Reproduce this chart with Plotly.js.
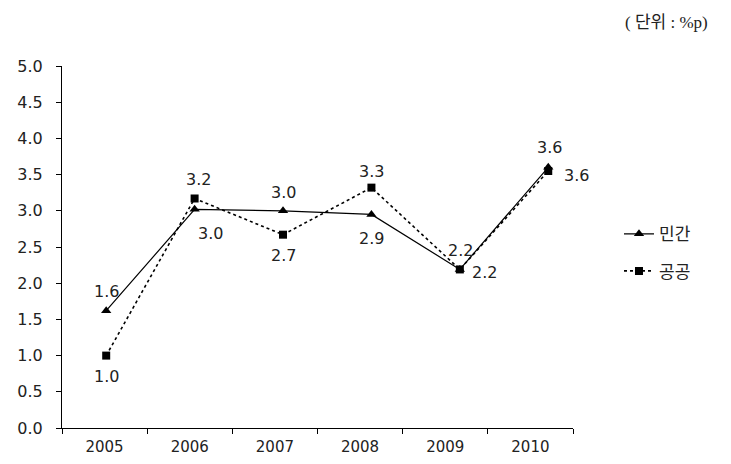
<!DOCTYPE html>
<html>
<head>
<meta charset="utf-8">
<script src="https://cdn.plot.ly/plotly-3.0.1.min.js"></script>
<style>html,body{margin:0;padding:0;background:#fff;}</style>
</head>
<body>
<div id="chart" style="width:731px;height:464px;"></div>
<script>
const years = ['2005', '2006', '2007', '2008', '2009', '2010'];
const privateVals = [1.62, 3.02, 3.0, 2.95, 2.19, 3.6];
const publicVals = [1.0, 3.17, 2.67, 3.32, 2.19, 3.55];
const privateLabels = ['1.6', '3.0', '3.0', '2.9', '2.2', '3.6'];
const publicLabels = ['1.0', '3.2', '2.7', '3.3', '2.2', '3.6'];

// label offsets in pixels (x right, y up)
const privateShift = [[0, 19], [16, -24], [0, 18], [0, -24], [1, 19], [1, 20]];
const publicShift = [[0, -21], [4, 19], [0, -21], [0, 16], [25, -3], [28, -5]];

const numFont = {family: 'DejaVu Sans, Noto Sans CJK KR, sans-serif', size: 16, color: '#222'};

const traces = [
  {
    x: years, y: privateVals, name: '민간', type: 'scatter', mode: 'lines+markers',
    xaxis: 'x2', yaxis: 'y', legendgroup: 'a',
    line: {color: '#000', width: 1.2, dash: 'solid'},
    marker: {symbol: 'triangle-up', size: 9, color: '#000'}, cliponaxis: false
  },
  {
    x: years, y: publicVals, name: '공공', type: 'scatter', mode: 'lines+markers',
    xaxis: 'x2', yaxis: 'y', legendgroup: 'b',
    line: {color: '#000', width: 1.6, dash: 'dot'},
    marker: {symbol: 'square', size: 8, color: '#000'}, cliponaxis: false
  },
  {
    // invisible trace to carry the category tick axis
    x: years, y: publicVals, type: 'scatter', mode: 'markers', xaxis: 'x', yaxis: 'y',
    marker: {opacity: 0}, showlegend: false, hoverinfo: 'skip'
  }
];

const annotations = [];
years.forEach((yr, i) => {
  annotations.push({xref: 'x2', yref: 'y', x: i, y: privateVals[i], text: privateLabels[i],
    showarrow: false, xanchor: 'center', yanchor: 'middle',
    xshift: privateShift[i][0], yshift: privateShift[i][1], font: numFont});
  annotations.push({xref: 'x2', yref: 'y', x: i, y: publicVals[i], text: publicLabels[i],
    showarrow: false, xanchor: 'center', yanchor: 'middle',
    xshift: publicShift[i][0], yshift: publicShift[i][1], font: numFont});
});
annotations.push({
  text: '( 단위 : %p)', xref: 'paper', yref: 'paper', x: 1.182, y: 1.121,
  xanchor: 'center', yanchor: 'middle', showarrow: false,
  font: {family: 'Liberation Serif, Noto Sans CJK KR, serif', size: 17, color: '#222'}
});

const layout = {
  width: 731, height: 464,
  margin: {l: 62, r: 158, t: 66, b: 36},
  paper_bgcolor: '#fff', plot_bgcolor: '#fff',
  font: {family: 'DejaVu Sans, Noto Sans CJK KR, sans-serif', size: 16, color: '#222'},
  showlegend: true,
  legend: {
    x: 1.09, y: 0.585, xanchor: 'left', yanchor: 'top',
    font: {family: 'Noto Sans CJK KR, sans-serif', size: 17, color: '#222'},
    traceorder: 'grouped', tracegroupgap: 12, bgcolor: 'rgba(0,0,0,0)'
  },
  xaxis: {
    type: 'category', categoryarray: years, range: [-0.5, 5.5], showline: true, linecolor: '#000', linewidth: 1,
    ticks: 'outside', ticklen: 5, tickcolor: '#000', tickson: 'boundaries',
    showgrid: false, zeroline: false, tickfont: {size: 15}, ticklabelstandoff: 5
  },
  xaxis2: {
    type: 'category', categoryarray: years, overlaying: 'x', range: [-0.5, 5.28],
    showticklabels: false, ticks: '', showline: false, showgrid: false, zeroline: false
  },
  yaxis: {
    range: [0, 5], dtick: 0.5, tickformat: '.1f', showline: true, linecolor: '#000', linewidth: 1,
    ticks: 'outside', ticklen: 5, tickcolor: '#000', showgrid: false, zeroline: false,
    tickfont: {size: 16}, ticklabelstandoff: 10
  },
  annotations: annotations
};

Plotly.newPlot('chart', traces, layout, {displayModeBar: false, staticPlot: true});
</script>
</body>
</html>
